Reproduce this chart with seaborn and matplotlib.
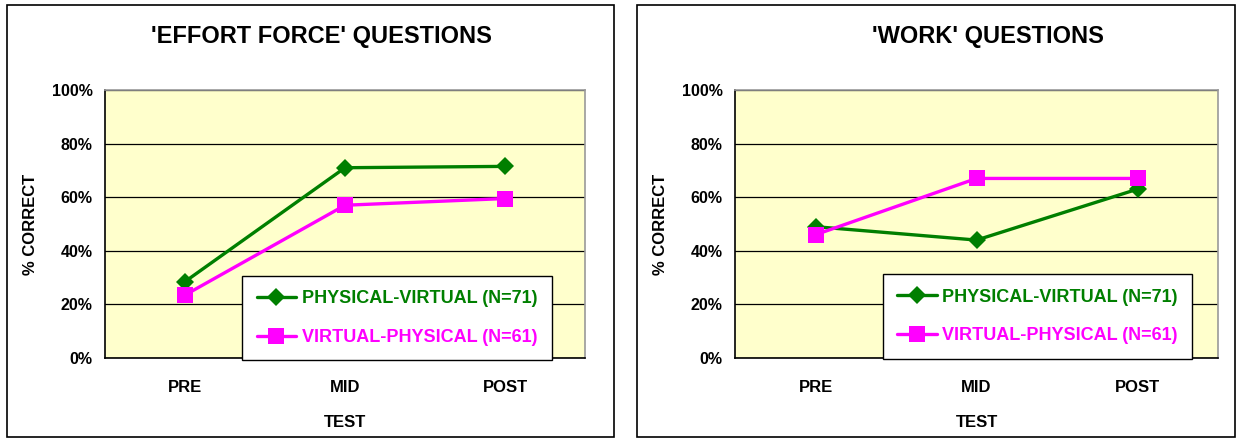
import pandas as pd
import seaborn as sns
import matplotlib.pyplot as plt
from matplotlib.patches import Rectangle
from matplotlib.ticker import PercentFormatter, FixedLocator

tests = ['PRE', 'MID', 'POST']
groups = ['PHYSICAL-VIRTUAL (N=71)', 'VIRTUAL-PHYSICAL (N=61)']
effort_pv = [28.5, 71, 71.5]
effort_vp = [23.5, 57, 59.5]
work_pv = [49, 44, 63]
work_vp = [46, 67, 67]
titles = ["'EFFORT FORCE' QUESTIONS", "'WORK' QUESTIONS"]

green = '#007F00'
magenta = '#FF00FF'


def make_df(pv, vp):
    rows = []
    for g, vals in zip(groups, [pv, vp]):
        for t, v in zip(tests, vals):
            rows.append({'TEST': t, 'value': v, 'group': g})
    return pd.DataFrame(rows)


sns.set_style('white')
plt.rcParams['font.family'] = ['Liberation Sans', 'DejaVu Sans']
plt.rcParams['font.weight'] = 'bold'
plt.rcParams['text.color'] = 'black'
plt.rcParams['axes.labelcolor'] = 'black'
plt.rcParams['xtick.color'] = 'black'
plt.rcParams['ytick.color'] = 'black'

fig = plt.figure(figsize=(12.38, 4.42), dpi=100)

# outer chart boxes (pixel coords of the reference)
for x0, x1 in [(7, 614), (637, 1235)]:
    fig.patches.append(Rectangle((x0 / 1238, 1 - 437 / 442), (x1 - x0) / 1238, 432 / 442,
                                 transform=fig.transFigure, fill=False, edgecolor='black', lw=1.2))

axes_px = [(105, 585), (735, 1218)]
title_x = [321, 988]
legend_centers = [(0.608, 0.149), (0.626, 0.155)]
datasets = [(effort_pv, effort_vp), (work_pv, work_vp)]

for (x0, x1), title, tx, (pv, vp), lc in zip(axes_px, titles, title_x, datasets, legend_centers):
    ax = fig.add_axes([x0 / 1238, 1 - 358 / 442, (x1 - x0) / 1238, 268 / 442])
    ax.set_facecolor('#FFFFCC')
    df = make_df(pv, vp)
    sns.lineplot(data=df, x='TEST', y='value', hue='group', style='group', hue_order=groups,
                 palette={groups[0]: green, groups[1]: magenta},
                 markers={groups[0]: 'D', groups[1]: 's'}, dashes=False, lw=2.4,
                 markersize=9, markeredgewidth=0, ax=ax, sort=False)
    for line in ax.lines:
        if line.get_marker() == 's':
            line.set_markersize(11)
    ax.set_xlim(-0.5, 2.5)
    ax.set_ylim(0, 100)
    ax.yaxis.set_major_locator(FixedLocator([0, 20, 40, 60, 80, 100]))
    ax.yaxis.set_major_formatter(PercentFormatter(decimals=0))
    ax.grid(axis='y', color='black', lw=0.9)
    ax.set_axisbelow(True)
    ax.set_xticks([0, 1, 2])
    ax.set_xticks([-0.5, 0.5, 1.5, 2.5], minor=True)
    ax.tick_params(axis='x', which='major', length=0, pad=16, labelsize=12)
    ax.tick_params(axis='x', which='minor', length=5, width=1, direction='out', color='black')
    ax.tick_params(axis='y', length=4, width=1, direction='out', color='black', labelsize=11.5, pad=5)
    for lab in ax.get_xticklabels() + ax.get_yticklabels():
        lab.set_fontweight('bold')
    for side in ['left', 'bottom']:
        ax.spines[side].set_color('black')
        ax.spines[side].set_linewidth(1.2)
    for side in ['top', 'right']:
        ax.spines[side].set_color('#999999')
        ax.spines[side].set_linewidth(1.2)
        ax.spines[side].set_visible(True)
    ax.set_xlabel('TEST', fontsize=12, fontweight='bold', labelpad=14)
    ax.set_ylabel('% CORRECT', fontsize=12, fontweight='bold', labelpad=10)
    fig.text(tx / 1238, 1 - 37 / 442, title, fontsize=17, fontweight='bold',
             color='black', ha='center', va='center')

    leg = ax.legend(loc='center', bbox_to_anchor=lc, frameon=True, fancybox=False,
                    framealpha=1, edgecolor='black', facecolor='white', fontsize=13,
                    handlelength=2.2, handletextpad=0.3, labelspacing=1.2, borderpad=0.8,
                    borderaxespad=0)
    leg.get_frame().set_linewidth(1)
    for txt, c in zip(leg.get_texts(), [green, magenta]):
        txt.set_color(c)
        txt.set_fontweight('bold')

fig.savefig('out.png', dpi=100)
